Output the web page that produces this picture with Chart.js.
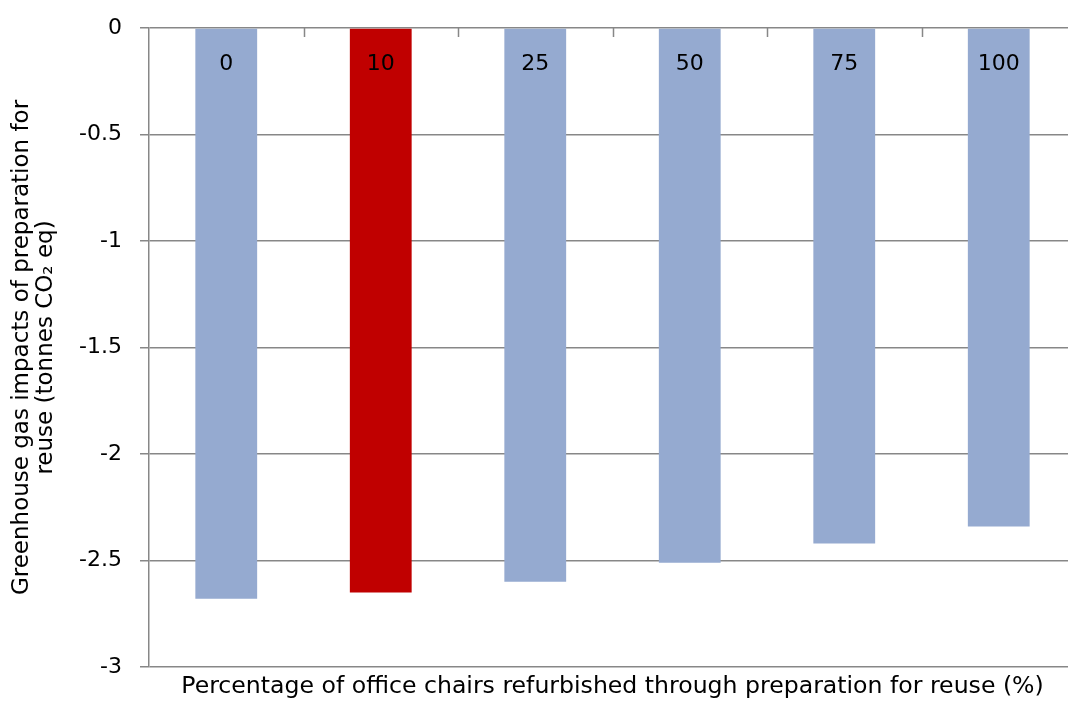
<!DOCTYPE html>
<html>
<head>
<meta charset="utf-8">
<script src="https://cdn.jsdelivr.net/npm/chart.js@4.4.1/dist/chart.umd.min.js"></script>
<style>
  html, body { margin: 0; padding: 0; background: #ffffff; overflow: hidden; }
  #wrap { width: 1076px; height: 701px; }
</style>
</head>
<body>
<div id="wrap"><canvas id="chart" width="1076" height="701"></canvas></div>
<script>
// Share of office chairs refurbished through preparation for reuse (%)
const categories = ['0', '10', '25', '50', '75', '100'];
// Greenhouse gas impact of each scenario, tonnes CO2 eq
const impacts = [-2.68, -2.65, -2.60, -2.51, -2.42, -2.34];
// Highlighted scenario
const highlight = '10';
// Value axis ticks
const yTicks = [0, -0.5, -1, -1.5, -2, -2.5, -3];

const FONT = '"DejaVu Sans", sans-serif';
const BLUE = '#95AAD0';
const RED = '#C00000';
const GRID = '#878787';

// Category labels sit inside the bars, just below the zero line,
// with small tick marks between categories hanging from that line.
const categoryLabels = {
  id: 'categoryLabels',
  afterDatasetsDraw(chart) {
    const { ctx, scales: { x, y } } = chart;
    const y0 = y.getPixelForValue(0);
    ctx.save();
    ctx.strokeStyle = GRID;
    ctx.lineWidth = 1.5;
    for (let i = 1; i < categories.length; i++) {
      const xb = Math.round((x.getPixelForValue(i - 1) + x.getPixelForValue(i)) / 2) + 0.5;
      ctx.beginPath();
      ctx.moveTo(xb, y0);
      ctx.lineTo(xb, y0 + 9);
      ctx.stroke();
    }
    ctx.fillStyle = '#000000';
    ctx.font = '22px ' + FONT;
    ctx.textAlign = 'center';
    ctx.textBaseline = 'middle';
    categories.forEach((c, i) => {
      ctx.fillText(c, x.getPixelForValue(i), y0 + 36);
    });
    ctx.restore();
  }
};

new Chart(document.getElementById('chart'), {
  type: 'bar',
  data: {
    labels: categories,
    datasets: [{
      data: impacts,
      backgroundColor: categories.map(c => c === highlight ? RED : BLUE),
      borderWidth: 0,
      barPercentage: 0.4,
      categoryPercentage: 1.0
    }]
  },
  options: {
    responsive: false,
    animation: false,
    layout: { padding: { left: 0, top: 28, right: 0, bottom: 0 } },
    plugins: {
      legend: { display: false },
      tooltip: { enabled: false }
    },
    scales: {
      x: {
        position: 'bottom',
        grid: { display: false },
        border: { display: false },
        ticks: { display: false },
        title: {
          display: true,
          text: 'Percentage of office chairs refurbished through preparation for reuse (%)',
          color: '#000000',
          font: { family: FONT, size: 23.6 },
          padding: { top: 3, bottom: 0 }
        },
        afterFit(scale) { scale.height = 34; }
      },
      y: {
        min: -3,
        max: 0,
        afterBuildTicks(scale) {
          scale.ticks = yTicks.map(v => ({ value: v }));
        },
        grid: {
          color: GRID,
          lineWidth: 1.5,
          tickLength: 9,
          drawTicks: true
        },
        border: { display: true, color: GRID, width: 1.5 },
        ticks: {
          color: '#000000',
          font: { family: FONT, size: 22 },
          padding: 18,
          callback: v => String(v)
        },
        title: {
          display: true,
          text: ['Greenhouse gas impacts of preparation for', 'reuse (tonnes CO\u2082 eq)'],
          color: '#000000',
          font: { family: FONT, size: 23, lineHeight: 1.05 },
          padding: { top: 10, bottom: 0 }
        },
        afterFit(scale) {
          scale.width = 149;
          scale.paddingTop = 0;
          scale.paddingBottom = 0;
        }
      }
    }
  },
  plugins: [categoryLabels]
});
</script>
</body>
</html>
